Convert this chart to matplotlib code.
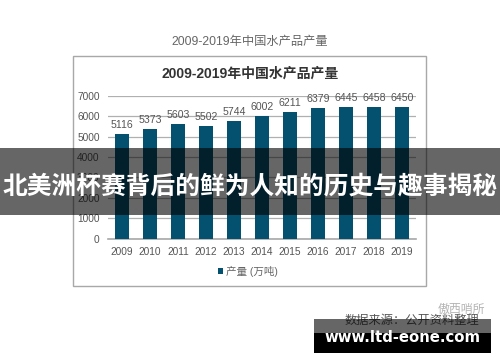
import matplotlib
matplotlib.use("Agg")
import matplotlib.pyplot as plt
from matplotlib.patches import Rectangle

plt.rcParams['font.family'] = ['Liberation Sans', 'Noto Sans CJK SC', 'DejaVu Sans']

years = ['2009', '2010', '2011', '2012', '2013', '2014', '2015', '2016', '2017', '2018', '2019']
output = [5116, 5373, 5603, 5502, 5744, 6002, 6211, 6379, 6445, 6458, 6450]
yticks = [0, 1000, 2000, 3000, 4000, 5000, 6000, 7000]
outer_title = '2009-2019年中国水产品产量'
inner_title = '2009-2019年中国水产品产量'
legend_label = '产量 (万吨)'
source = '数据来源：公开资料整理'
watermark = '傲西哨所'
banner = '北美洲杯赛背后的鲜为人知的历史与趣事揭秘'
site = 'www.ltd-eone.com'

W, H = 500, 362
BAR = '#03506f'
fig = plt.figure(figsize=(W / 100, H / 100), dpi=100, facecolor='white')

def box(x0, y0, x1, y1):
    return [x0 / W, 1 - y1 / H, (x1 - x0) / W, (y1 - y0) / H]

def fx(x):
    return x / W

def fy(y):
    return 1 - y / H

# chart panel frame
fig.add_artist(Rectangle((fx(73), fy(286)), 353 / W, 230 / H, transform=fig.transFigure,
                         facecolor='white', edgecolor='#a8a8a8', lw=1.0, zorder=0))

ax = fig.add_axes(box(108, 95.7, 416, 238.7), facecolor='none')
ax.bar(range(len(years)), output, width=0.5, color=BAR, zorder=3)
ax.set_xlim(-0.5, len(years) - 0.5)
ax.set_ylim(0, 7000)
ax.set_yticks(yticks)
ax.set_xticks(range(len(years)))
ax.set_xticklabels(years)
ax.tick_params(length=0, labelsize=7.3, colors='#555555', pad=6)
ax.tick_params(axis='y', pad=6)
ax.grid(axis='y', color='#b0b0b0', lw=0.9, zorder=1)
ax.set_axisbelow(True)
for name in ('top', 'left', 'right'):
    ax.spines[name].set_visible(False)
ax.spines['bottom'].set_color('#a8a8a8')
ax.spines['bottom'].set_linewidth(1.2)
for i, v in enumerate(output):
    ax.annotate(str(v), (i, v), xytext=(0, 3), textcoords='offset points', ha='center',
                va='bottom', fontsize=7.6, color='#555555', zorder=4)

fig.text(fx(250), fy(42.5), outer_title, ha='center', va='center', fontsize=8.8, color='#666666')
fig.text(fx(250), fy(74), inner_title, ha='center', va='center', fontsize=10,
         fontweight='bold', color='#333333')

# legend
fig.add_artist(Rectangle((fx(217.5), fy(274)), 5 / W, 6 / H, transform=fig.transFigure,
                         facecolor=BAR, edgecolor='none'))
fig.text(fx(226), fy(271), legend_label, ha='left', va='center', fontsize=7.6, color='#666666')

# source and watermark
fig.text(fx(485), fy(310), watermark, ha='right', va='center', fontsize=8.6, color='#b4b4b4')
fig.text(fx(345), fy(321), source, ha='left', va='center', fontsize=8.8, color='#555555', zorder=2)

# overlays
fig.add_artist(Rectangle((0, fy(214.7)), 1, 66.7 / H, transform=fig.transFigure,
                         facecolor='black', alpha=0.6, edgecolor='none', zorder=5))
fig.text(fx(250), fy(186), banner, ha='center', va='center', fontsize=17.8,
         fontweight='bold', color='white', zorder=6)
fig.add_artist(Rectangle((fx(314), fy(333)), 177 / W, 14 / H, transform=fig.transFigure,
                         facecolor='black', alpha=0.6, edgecolor='none', zorder=5))
fig.add_artist(Rectangle((fx(314), fy(352.7)), 177 / W, 19.7 / H, transform=fig.transFigure,
                         facecolor='black', edgecolor='none', zorder=5))
fig.text(fx(402), fy(337), site, ha='center', va='center', fontsize=10.7,
         fontweight='bold', color='white', family='DejaVu Sans', zorder=6)

fig.savefig('out.png', dpi=100)
